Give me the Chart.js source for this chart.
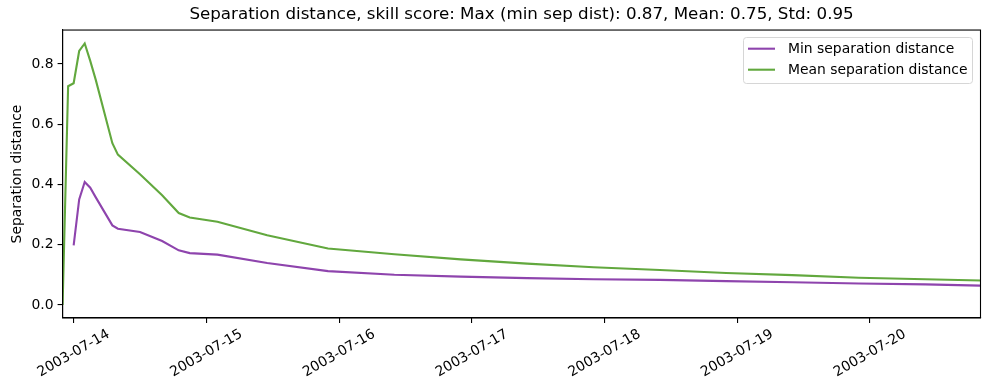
<!DOCTYPE html>
<html lang="en">
<head>
    <meta charset="UTF-8">
    <title>Separation distance</title>
    <script src="https://cdn.jsdelivr.net/npm/chart.js"></script>
    <style>
        html, body { margin: 0; padding: 0; background: #fff; }
        #wrap { width: 989px; height: 390px; }
    </style>
</head>
<body>
    <div id="wrap"><canvas id="sepChart"></canvas></div>

    <script>
        // x values are hours since 2003-07-14 00:00
        const hours = [-2, -1, 0, 1, 2, 3, 4, 7, 8, 12, 16, 19, 21, 26, 35, 46, 58, 70, 82, 94, 106, 118, 130, 142, 154, 164];
        const minSep = [null, null, 0.198, 0.350, 0.408, 0.389, 0.357, 0.264, 0.253, 0.242, 0.212, 0.181, 0.172, 0.167, 0.139, 0.112, 0.100, 0.094, 0.089, 0.085, 0.083, 0.079, 0.075, 0.071, 0.068, 0.064];
        const meanSep = [0.0, 0.726, 0.736, 0.843, 0.868, 0.810, 0.747, 0.537, 0.499, 0.434, 0.364, 0.305, 0.290, 0.276, 0.231, 0.187, 0.168, 0.151, 0.137, 0.125, 0.116, 0.106, 0.099, 0.090, 0.085, 0.081];
        const seriesNames = ['Min separation distance', 'Mean separation distance'];
        const seriesColors = ['#8e44ad', '#62a83e'];
        const dayTicks = [0, 24, 48, 72, 96, 120, 144];
        const yTicks = [0.0, 0.2, 0.4, 0.6, 0.8];
        const titleText = 'Separation distance, skill score: Max (min sep dist): 0.87, Mean: 0.75, Std: 0.95';

        const FONT = "'DejaVu Sans', sans-serif";

        function toPoints(values) {
            return hours.map((h, i) => ({ x: h, y: values[i] }));
        }

        function dayLabel(h) {
            const d = new Date(Date.UTC(2003, 6, 14) + h * 3600 * 1000);
            return d.toISOString().slice(0, 10);
        }

        // matplotlib-like frame, centred title and legend box
        const mplLook = {
            id: 'mplLook',
            afterLayout(chart) {
                const t = chart.titleBlock;
                if (t) {
                    t.left = chart.chartArea.left;
                    t.right = chart.chartArea.right;
                    t.width = t.right - t.left;
                }
            },
            afterDraw(chart) {
                const ctx = chart.ctx;
                const a = chart.chartArea;
                ctx.save();
                ctx.strokeStyle = '#000';
                ctx.lineWidth = 1.1;
                ctx.strokeRect(a.left, a.top, a.right - a.left, a.bottom - a.top);

                // legend
                const bx = 743.5, by = 37.5, bw = 229, bh = 46;
                ctx.beginPath();
                ctx.roundRect(bx, by, bw, bh, 3);
                ctx.fillStyle = 'rgba(255,255,255,0.8)';
                ctx.fill();
                ctx.strokeStyle = '#d6d6d6';
                ctx.lineWidth = 1;
                ctx.stroke();
                ctx.font = '13.9px ' + FONT;
                ctx.textBaseline = 'middle';
                ctx.textAlign = 'left';
                chart.data.datasets.forEach((ds, i) => {
                    const ly = 48.7 + i * 21;
                    ctx.strokeStyle = ds.borderColor;
                    ctx.lineWidth = 2.1;
                    ctx.beginPath();
                    ctx.moveTo(748, ly);
                    ctx.lineTo(775, ly);
                    ctx.stroke();
                    ctx.fillStyle = '#000';
                    ctx.fillText(ds.label, 788, ly + 0.5);
                });
                ctx.restore();
            }
        };

        const ctx = document.getElementById('sepChart').getContext('2d');
        const sepChart = new Chart(ctx, {
            type: 'line',
            data: {
                datasets: [
                    {
                        label: seriesNames[0],
                        data: toPoints(minSep),
                        borderColor: seriesColors[0],
                        borderWidth: 2.1,
                        pointRadius: 0,
                        tension: 0,
                        fill: false
                    },
                    {
                        label: seriesNames[1],
                        data: toPoints(meanSep),
                        borderColor: seriesColors[1],
                        borderWidth: 2.1,
                        pointRadius: 0,
                        tension: 0,
                        fill: false
                    }
                ]
            },
            options: {
                responsive: true,
                maintainAspectRatio: false,
                animation: false,
                events: [],
                layout: { padding: { left: 0, right: 8.5, top: 0, bottom: 0 } },
                plugins: {
                    legend: { display: false },
                    tooltip: { enabled: false },
                    title: {
                        display: true,
                        text: titleText,
                        color: '#000',
                        font: { family: FONT, size: 16.7, weight: 'normal' },
                        padding: { top: 5, bottom: 5 }
                    }
                },
                scales: {
                    x: {
                        type: 'linear',
                        min: -2,
                        max: 164,
                        afterBuildTicks: (scale) => { scale.ticks = dayTicks.map(v => ({ value: v })); },
                        afterFit: (scale) => { scale.height = 72; },
                        grid: { drawOnChartArea: false, drawTicks: true, tickLength: 5, color: '#000', lineWidth: 1.1 },
                        border: { display: true, color: '#000', width: 1.1 },
                        ticks: {
                            autoSkip: false,
                            minRotation: 30,
                            maxRotation: 30,
                            labelOffset: 35,
                            padding: 3,
                            color: '#000',
                            font: { family: FONT, size: 13.9 },
                            callback: (v) => dayLabel(v)
                        }
                    },
                    y: {
                        min: -0.0435,
                        max: 0.9125,
                        afterBuildTicks: (scale) => { scale.ticks = yTicks.map(v => ({ value: v })); },
                        afterFit: (scale) => { scale.width = 61.5; },
                        grid: { drawOnChartArea: false, drawTicks: true, tickLength: 5, color: '#000', lineWidth: 1.1 },
                        border: { display: true, color: '#000', width: 1.1 },
                        ticks: {
                            padding: 4,
                            color: '#000',
                            font: { family: FONT, size: 13.9 },
                            callback: (v) => v.toFixed(1)
                        },
                        title: {
                            display: true,
                            text: 'Separation distance',
                            color: '#000',
                            font: { family: FONT, size: 13.9 },
                            padding: { top: 8, bottom: 0 }
                        }
                    }
                }
            },
            plugins: [mplLook]
        });
    </script>
</body>
</html>
